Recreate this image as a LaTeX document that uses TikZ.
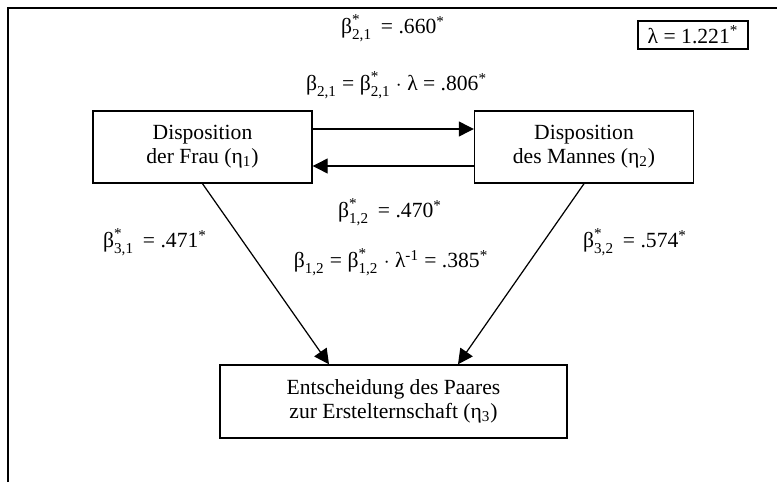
\documentclass[tikz,border=0pt]{standalone}
\usepackage{amsmath}
\usepackage{fontspec}
\setmainfont{Liberation Serif}
\usepackage{tikz}
\usetikzlibrary{arrows.meta,positioning,calc}
\newcommand{\bstd}[1]{$\text{β}^{\text{*}}_{\text{#1}}$}
\newcommand{\bunst}[1]{$\text{β}_{\text{#1}}$}
\newcommand{\sig}{\textsuperscript{*}}

\begin{document}
\begin{tikzpicture}[font=\fontsize{12.3}{13.5}\selectfont,
  box/.style={draw,line width=0.8pt,align=center,minimum width=4.38cm,minimum height=1.44cm,inner sep=0pt},
  arr/.style={line width=0.7pt,-{Triangle[length=0.3cm,width=0.3cm]}}]
\useasboundingbox (0,0) rectangle (15.54,-9.64);
% frame
\draw[line width=1.2pt] (0.16,-9.64) -- (0.16,-0.16) -- (15.54,-0.16);
% boxes
\node[box] (frau) at (4.05,-2.94) {Disposition\\der Frau (η\textsubscript{1})};
\node[box] (mann) at (11.68,-2.94) {Disposition\\des Mannes (η\textsubscript{2})};
\node[box,minimum width=6.94cm,minimum height=1.46cm] (paar) at (7.87,-8.03)
  {Entscheidung des Paares\\zur Ersteltern­schaft (η\textsubscript{3})};
\node[draw,line width=0.8pt,minimum width=2.2cm,minimum height=0.56cm,inner sep=0pt] (lam) at (13.86,-0.70)
  {λ = 1.221\sig};
% paths
\draw[arr] ([yshift=0.36cm]frau.east) -- ([yshift=0.36cm]mann.west);
\draw[arr] ([yshift=-0.38cm]mann.west) -- ([yshift=-0.38cm]frau.east);
\draw[arr] (frau.south) -- ([xshift=-1.29cm]paar.north);
\draw[arr] (mann.south) -- ([xshift=1.29cm]paar.north);
% labels
\node (b21s) at (7.86,-0.56) {\bstd{2,1} \,= .660\sig};
\node (b21) at (7.93,-1.70) {\bunst{2,1} = \bstd{2,1} $\cdot$ λ = .806\sig};
\node (b12s) at (7.80,-4.24) {\bstd{1,2} \,= .470\sig};
\node (b12) at (7.82,-5.24) {\bunst{1,2} = \bstd{1,2} $\cdot$ λ\textsuperscript{-1} = .385\sig};
\node (b31s) at (3.10,-4.84) {\bstd{3,1} \,= .471\sig};
\node (b32s) at (12.70,-4.84) {\bstd{3,2} \,= .574\sig};
\end{tikzpicture}
\end{document}
